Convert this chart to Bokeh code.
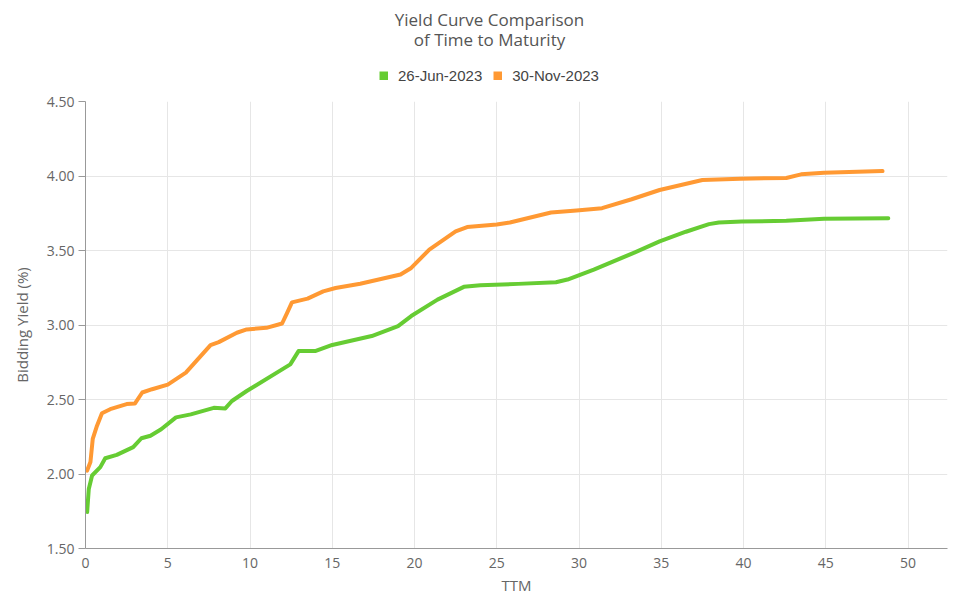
from bokeh.plotting import figure
from bokeh.models import Legend, LegendItem, Range1d, FixedTicker, NumeralTickFormatter, Label
from bokeh.layouts import column
from bokeh.embed import file_html
from bokeh.resources import INLINE

# Data
jun_ttm = [0.1, 0.2, 0.4, 0.9, 1.2, 1.9, 2.9, 3.4, 3.95, 4.6, 5.5, 6.4, 7.8, 8.5, 8.9, 9.8,
           12.45, 12.95, 14.0, 15.0, 17.4, 19.0, 19.8, 21.4, 23.0, 24.0, 26.3, 28.6, 29.3,
           30.9, 33.4, 34.9, 36.5, 37.9, 38.5, 39.9, 42.6, 44.9, 48.8]
jun_yield = [1.745, 1.90, 1.99, 2.046, 2.106, 2.128, 2.18, 2.24, 2.257, 2.30, 2.38, 2.40, 2.444,
             2.44, 2.49, 2.557, 2.736, 2.825, 2.826, 2.866, 2.926, 2.993, 3.06, 3.17, 3.256,
             3.267, 3.276, 3.287, 3.305, 3.372, 3.488, 3.561, 3.626, 3.677, 3.688, 3.695,
             3.699, 3.713, 3.717]

nov_ttm = [0.1, 0.3, 0.44, 0.7, 1.0, 1.5, 2.5, 3.0, 3.45, 4.05, 5.0, 6.1, 7.6, 8.1, 9.2, 9.8,
           11.0, 11.95, 12.25, 12.55, 13.5, 14.45, 15.2, 16.7, 19.15, 19.8, 20.9, 22.5, 23.2,
           25.0, 25.8, 28.3, 29.85, 31.4, 33.2, 34.9, 37.5, 39.8, 42.6, 43.5, 44.9, 48.45]
nov_yield = [2.023, 2.08, 2.235, 2.324, 2.408, 2.435, 2.469, 2.473, 2.547, 2.569, 2.60, 2.68,
             2.865, 2.885, 2.948, 2.97, 2.981, 3.01, 3.08, 3.152, 3.177, 3.226, 3.248, 3.277,
             3.339, 3.383, 3.506, 3.628, 3.657, 3.675, 3.688, 3.755, 3.768, 3.784, 3.844,
             3.906, 3.973, 3.982, 3.987, 4.011, 4.022, 4.033]

series_names = ["26-Jun-2023", "30-Nov-2023"]
series_colors = ["#66CC33", "#FF9933"]
y_ticks = [1.5, 2.0, 2.5, 3.0, 3.5, 4.0, 4.5]
x_ticks = [0, 5, 10, 15, 20, 25, 30, 35, 40, 45, 50]
title_lines = ["Yield Curve Comparison", "of Time to Maturity"]

FONT = "Open Sans"
TXT = "#666666"
W = 955

# ---------- header: title + legend ----------
h = figure(width=W, height=90, output_backend="svg", toolbar_location=None,
           x_range=Range1d(0, 1), y_range=Range1d(0, 1),
           min_border_left=0, min_border_right=0, min_border_top=0, min_border_bottom=0,
           title=None)
h.axis.visible = False
h.grid.visible = False
h.outline_line_color = None

# legend proxies: the same series (they fall outside this header's range)
g1 = h.line(jun_ttm, jun_yield, line_color=series_colors[0], line_width=9)
g2 = h.line(nov_ttm, nov_yield, line_color=series_colors[1], line_width=9)
legend = Legend(items=[LegendItem(label=series_names[0], renderers=[g1]),
                       LegendItem(label=series_names[1], renderers=[g2])],
                orientation="horizontal", location=(294, 6),
                label_text_font="Liberation Sans", label_text_font_size="15px",
                label_text_color="#444444", glyph_width=9, glyph_height=9,
                spacing=11, label_standoff=10, padding=3, margin=0,
                border_line_color=None, background_fill_alpha=0)
h.add_layout(legend, "center")

for txt, yb in zip(title_lines, [71.5, 51.5]):
    h.add_layout(Label(x=404, y=yb, x_units="screen", y_units="screen", text=txt,
                       text_align="center", text_baseline="alphabetic",
                       text_font=FONT, text_font_size="17px", text_color="#555555"))

# ---------- main chart ----------
p = figure(width=W, height=507, output_backend="svg", toolbar_location=None,
           x_range=Range1d(0, 52.4), y_range=Range1d(1.5, 4.5),
           min_border_left=85, min_border_right=8, min_border_top=11, min_border_bottom=47,
           title=None)
p.outline_line_color = None

p.line(jun_ttm, jun_yield, line_color=series_colors[0], line_width=4, line_join="round", line_cap="round")
p.line(nov_ttm, nov_yield, line_color=series_colors[1], line_width=4, line_join="round", line_cap="round")

p.xaxis.ticker = FixedTicker(ticks=x_ticks)
p.yaxis.ticker = FixedTicker(ticks=y_ticks)
p.yaxis.formatter = NumeralTickFormatter(format="0.00")
for ax in (p.xaxis[0], p.yaxis[0]):
    ax.axis_line_color = "#999999"
    ax.axis_line_width = 1
    ax.major_tick_line_color = "#999999"
    ax.minor_tick_line_color = None
    ax.major_label_text_font = FONT
    ax.major_label_text_font_size = "14px"
    ax.major_label_text_color = TXT
    ax.axis_label_text_font = FONT
    ax.axis_label_text_font_size = "15px"
    ax.axis_label_text_font_style = "normal"
    ax.axis_label_text_color = TXT
p.xaxis.major_tick_out = 0
p.xaxis.major_tick_in = 0
p.yaxis.major_tick_out = 7
p.yaxis.major_tick_in = 0
p.xaxis.major_label_standoff = 9
p.yaxis.major_label_standoff = 4
p.xaxis.axis_label = "TTM"
p.yaxis.axis_label = "Bidding Yield (%)"
p.xaxis.axis_label_standoff = 4
p.yaxis.axis_label_standoff = 12

p.xgrid.grid_line_color = "#e6e6e6"
p.ygrid.grid_line_color = "#e6e6e6"
p.xgrid.ticker = FixedTicker(ticks=x_ticks)
p.ygrid.ticker = FixedTicker(ticks=y_ticks)

layout = column(h, p, spacing=0)
open("out.html", "w").write(file_html(layout, INLINE))
